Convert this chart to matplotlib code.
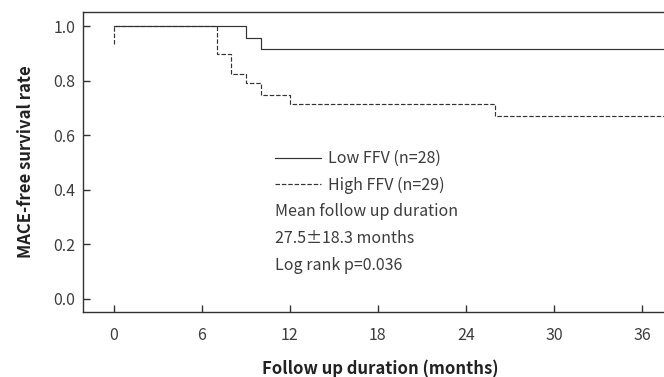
import matplotlib.pyplot as plt

plt.rcParams['font.family'] = ['Noto Sans CJK KR', 'DejaVu Sans']

# Kaplan-Meier steps
low_t = [0, 9, 10, 37.5]
low_s = [1.0, 0.958, 0.915, 0.915]
high_t = [0, 0, 7, 8, 9, 10, 12, 26, 37.5]
high_s = [0.936, 1.0, 0.899, 0.823, 0.791, 0.748, 0.714, 0.670, 0.670]

x_ticks = [0, 6, 12, 18, 24, 30, 36]
y_ticks = [0.0, 0.2, 0.4, 0.6, 0.8, 1.0]
labels = ['Low FFV (n=28)', 'High FFV (n=29)']
notes = ['Mean follow up duration', '27.5\u00b118.3 months', 'Log rank p=0.036']

ink = '#333333'
txt = '#3c3c3c'
fs = 11.5
light = 'light'

fig = plt.figure(figsize=(6.64, 3.77), dpi=100)
ax = fig.add_axes([0.125, 0.172, 0.875, 0.796])

ax.step(low_t, low_s, where='post', color=ink, lw=0.85, label=labels[0])
ax.step(high_t, high_s, where='post', color=ink, lw=0.85,
        linestyle=(0, (3.8, 1.6)), label=labels[1])

ax.set_xlim(-2.1, 37.5)
ax.set_ylim(-0.05, 1.052)
ax.set_xticks(x_ticks)
ax.set_yticks(y_ticks)
ax.set_yticklabels(['%.1f' % v for v in y_ticks])

ax.spines['right'].set_visible(False)
for s in ['left', 'top', 'bottom']:
    ax.spines[s].set_color(ink)
    ax.spines[s].set_linewidth(1.0)

ax.tick_params(axis='x', direction='in', length=5, width=1, color=ink,
               labelsize=fs, labelcolor=txt, pad=10.5)
ax.tick_params(axis='y', direction='in', length=5, width=1, color=ink,
               labelsize=fs, labelcolor=txt, pad=5.5)
for t in ax.get_xticklabels() + ax.get_yticklabels():
    t.set_fontweight(light)

ax.set_xlabel('Follow up duration (months)', fontsize=12, fontweight='bold',
              color='#222222')
ax.set_ylabel('MACE-free survival rate', fontsize=12, fontweight='bold',
              color='#222222', labelpad=13)
ax.xaxis.set_label_coords(0.512, -0.158)

leg = ax.legend(loc='upper left', bbox_to_anchor=(0.33, 0.54), frameon=False,
                prop={'size': fs, 'weight': light}, handlelength=2.9,
                handletextpad=0.45, labelspacing=0.6, borderaxespad=0,
                borderpad=0)
for t in leg.get_texts():
    t.set_color(txt)

for i, n in enumerate(notes):
    ax.text(0.331, 0.337 - i * 0.09, n, transform=ax.transAxes,
            fontsize=fs, fontweight=light, color=txt, va='center', ha='left')

fig.savefig('out.png', dpi=100)
